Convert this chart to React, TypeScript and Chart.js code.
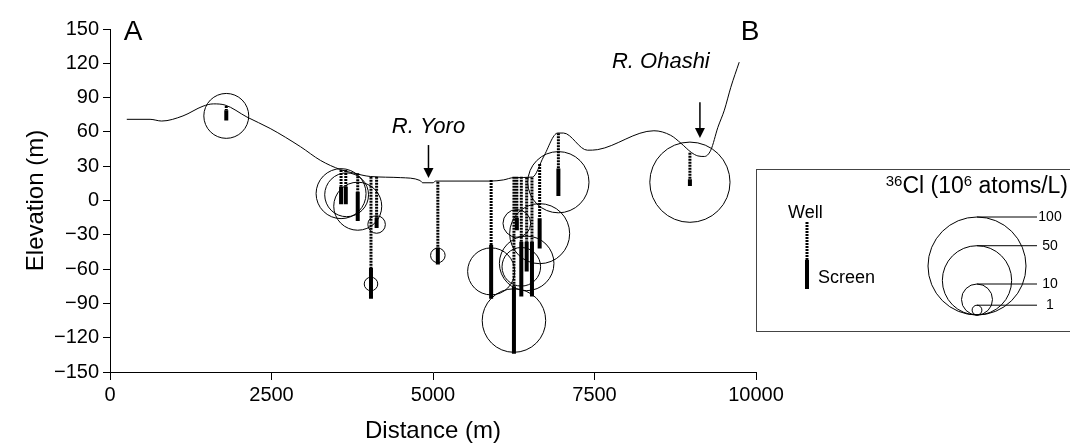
import React, { useEffect, useRef } from "react";
import { Chart, registerables } from "chart.js";
Chart.register(...registerables);

// Ground surface profile (distance m, elevation m)
const profileDistance = [260, 620, 800, 1130, 1440, 1600, 1780, 2120, 2480, 2950, 3260, 3570, 3770, 4030, 4500, 4800, 4840, 5000, 5040, 5890, 6090, 6250, 6540, 6710, 6930, 7020, 7390, 7550, 8420, 8680, 8840, 9000, 9100, 9200, 9300, 9410, 9510, 9610, 9740];
const profileElevation = [71, 71, 69.5, 74, 82.5, 84.5, 83.5, 73, 63, 47, 35, 27, 24, 21, 20, 17.5, 15.5, 15.5, 17, 17, 18, 20, 20.5, 38, 59, 59, 44, 44.5, 61, 57, 50, 42, 39, 38.5, 44, 64, 79, 99, 121];

// Wells
const wellX = [1800, 3577, 3650, 3835, 4040, 4127, 5075, 5900, 6253, 6298, 6367, 6450, 6532, 6651, 6941, 8977];
const wellTop = [82.7, 26.7, 26.7, 23.8, 20.8, 20.8, 16.4, 17.9, 20.8, 20.8, 20.8, 20.1, 20.1, 32, 58.8, 41.8];
const screenTop = [79, 12, 12, 7.7, -59, -15, -41, -39, -75, -15, -36, -36, -36, -15.6, 28, 18.5];
const screenBottom = [70, -3.3, -3.3, -18, -86, -24, -56, -86, -134, -26, -84, -62, -84, -42, 4, 12.7];

// 36Cl samples
const sampleX = [1800, 3577, 3663, 3835, 4040, 4127, 5075, 5900, 6253, 6298, 6367, 6450, 6651, 6941, 8977];
const sampleElev = [74, 6, 5, -5, -73, -21, -48, -62, -105, -20, -58, -55, -29, 16, 16];
const cl36 = [21, 26, 20, 24, 1.9, 3.2, 2.2, 23, 42, 8, 15.5, 31, 37.5, 39, 67];

const legendValues = [100, 50, 10, 1];

// Annotations
const labelTexts = ["A", "B", "R. Yoro", "R. Ohashi"];
const labelX = [357, 9907, 4930, 8527];
const labelY = [147, 147, 64, 121];
const arrowX = [4930, 9132];
const arrowFrom = [48.5, 86];
const arrowTo = [19.7, 54.7];

const xTicks = [0, 2500, 5000, 7500, 10000];
const yTicks = [-150, -120, -90, -60, -30, 0, 30, 60, 90, 120, 150];

const FONT = "'Liberation Sans', Arial, sans-serif";
const R_PER_SQRT = 4.9;

const overlayPlugin = {
  id: "overlay",
  afterDatasetsDraw(chart: any) {
    const { ctx, scales } = chart;
    const xs = scales.x;
    const ys = scales.y;
    ctx.save();
    ctx.fillStyle = "#000";
    ctx.strokeStyle = "#000";
    ctx.textAlign = "center";
    ctx.textBaseline = "middle";
    labelTexts.forEach((t, i) => {
      ctx.font = i < 2 ? `28px ${FONT}` : `italic 22px ${FONT}`;
      ctx.fillText(t, xs.getPixelForValue(labelX[i]), ys.getPixelForValue(labelY[i]));
    });
    arrowX.forEach((ax, i) => {
      const px = xs.getPixelForValue(ax);
      const p0 = ys.getPixelForValue(arrowFrom[i]);
      const p1 = ys.getPixelForValue(arrowTo[i]);
      ctx.lineWidth = 1.5;
      ctx.beginPath();
      ctx.moveTo(px, p0);
      ctx.lineTo(px, p1 - 8);
      ctx.stroke();
      ctx.beginPath();
      ctx.moveTo(px - 5, p1 - 10);
      ctx.lineTo(px + 5, p1 - 10);
      ctx.lineTo(px, p1);
      ctx.closePath();
      ctx.fill();
    });

    // Legend box
    ctx.lineWidth = 1;
    ctx.strokeStyle = "#444";
    ctx.strokeRect(756.5, 169.5, 314, 162);
    ctx.strokeStyle = "#000";
    const parts: [string, boolean][] = [["36", true], ["Cl (10", false], ["6", true], [" atoms/L)", false]];
    let total = 0;
    parts.forEach(([s, sup]) => {
      ctx.font = sup ? `15px ${FONT}` : `23px ${FONT}`;
      total += ctx.measureText(s).width;
    });
    let tx = 1068 - total;
    ctx.textAlign = "left";
    ctx.textBaseline = "alphabetic";
    parts.forEach(([s, sup]) => {
      ctx.font = sup ? `15px ${FONT}` : `23px ${FONT}`;
      ctx.fillText(s, tx, sup ? 186 : 193);
      tx += ctx.measureText(s).width;
    });
    ctx.font = `18px ${FONT}`;
    ctx.fillText("Well", 788, 218);
    ctx.fillText("Screen", 818, 283);
    ctx.setLineDash([2, 1]);
    ctx.lineWidth = 3;
    ctx.beginPath();
    ctx.moveTo(807, 222);
    ctx.lineTo(807, 260);
    ctx.stroke();
    ctx.setLineDash([]);
    ctx.lineWidth = 4;
    ctx.beginPath();
    ctx.moveTo(807, 260);
    ctx.lineTo(807, 289);
    ctx.stroke();
    ctx.lineWidth = 1;
    const cx = 977;
    const by = 315;
    ctx.font = `14px ${FONT}`;
    ctx.textAlign = "center";
    ctx.textBaseline = "middle";
    legendValues.forEach((v) => {
      const r = R_PER_SQRT * Math.sqrt(v);
      ctx.beginPath();
      ctx.arc(cx, by - r, r, 0, Math.PI * 2);
      ctx.stroke();
      ctx.beginPath();
      ctx.moveTo(cx, by - 2 * r);
      ctx.lineTo(1037, by - 2 * r);
      ctx.stroke();
      ctx.fillText(String(v), 1050, by - 2 * r);
    });
    ctx.restore();
  },
};

export default function App() {
  const ref = useRef<HTMLCanvasElement>(null);
  useEffect(() => {
    if (!ref.current) return;
    const profile = profileDistance.map((d, i) => ({ x: d, y: profileElevation[i] }));
    const wellSegs: any[] = [];
    const screenSegs: any[] = [];
    wellX.forEach((x, i) => {
      wellSegs.push({ x, y: wellTop[i] }, { x, y: screenTop[i] }, { x, y: null });
      screenSegs.push({ x, y: screenTop[i] }, { x, y: screenBottom[i] }, { x, y: null });
    });
    const samples = sampleX.map((x, i) => ({ x, y: sampleElev[i] }));
    const chart = new Chart(ref.current, {
      type: "scatter",
      data: {
        datasets: [
          {
            data: profile,
            showLine: true,
            borderColor: "#000",
            borderWidth: 1,
            pointRadius: 0,
            cubicInterpolationMode: "monotone",
          } as any,
          {
            data: wellSegs,
            showLine: true,
            spanGaps: false,
            borderColor: "#000",
            borderWidth: 3,
            borderDash: [2, 1],
            pointRadius: 0,
          } as any,
          {
            data: screenSegs,
            showLine: true,
            spanGaps: false,
            borderColor: "#000",
            borderWidth: 4,
            pointRadius: 0,
          } as any,
          {
            data: samples,
            showLine: false,
            pointStyle: "circle",
            pointRadius: (c: any) => R_PER_SQRT * Math.sqrt(cl36[c.dataIndex] ?? 0),
            pointBackgroundColor: "rgba(0,0,0,0)",
            pointBorderColor: "#000",
            pointBorderWidth: 1,
            clip: false,
          } as any,
        ],
      },
      options: {
        animation: false,
        responsive: false,
        maintainAspectRatio: false,
        events: [],
        layout: { autoPadding: false, padding: { left: 0, right: 314, top: 29, bottom: 0 } },
        plugins: { legend: { display: false }, tooltip: { enabled: false } },
        scales: {
          x: {
            type: "linear",
            min: 0,
            max: 10000,
            afterBuildTicks: (s: any) => {
              s.ticks = xTicks.map((v) => ({ value: v }));
            },
            ticks: {
              color: "#000",
              font: { size: 20, family: FONT },
              padding: 3,
              maxRotation: 0,
              autoSkip: false,
              callback: (v: any) => String(v),
            },
            grid: { display: true, drawOnChartArea: false, tickLength: 8, color: "#000", lineWidth: 1 },
            border: { display: true, color: "#000", width: 1 },
            title: { display: true, text: "Distance (m)", color: "#000", font: { size: 24, family: FONT }, padding: { top: 0, bottom: 0 } },
            afterFit: (s: any) => {
              s.height = 74;
            },
          },
          y: {
            type: "linear",
            min: -150,
            max: 150,
            afterBuildTicks: (s: any) => {
              s.ticks = yTicks.map((v) => ({ value: v }));
            },
            ticks: {
              color: "#000",
              font: { size: 20, family: FONT },
              padding: 4,
              autoSkip: false,
              callback: (v: any) => String(v).replace("-", "\u2212"),
            },
            grid: { display: true, drawOnChartArea: false, tickLength: 7, color: "#000", lineWidth: 1 },
            border: { display: true, color: "#000", width: 1 },
            title: { display: true, text: "Elevation (m)", color: "#000", font: { size: 24, family: FONT }, padding: { top: 22, bottom: 0 } },
            afterFit: (s: any) => {
              s.width = 110;
            },
          },
        },
      } as any,
      plugins: [overlayPlugin],
    });
    return () => chart.destroy();
  }, []);
  return (
    <div style={{ position: "absolute", left: 0, top: 0, width: 1070, height: 446, background: "#fff" }}>
      <canvas ref={ref} width={1070} height={446} style={{ width: 1070, height: 446 }} />
    </div>
  );
}
